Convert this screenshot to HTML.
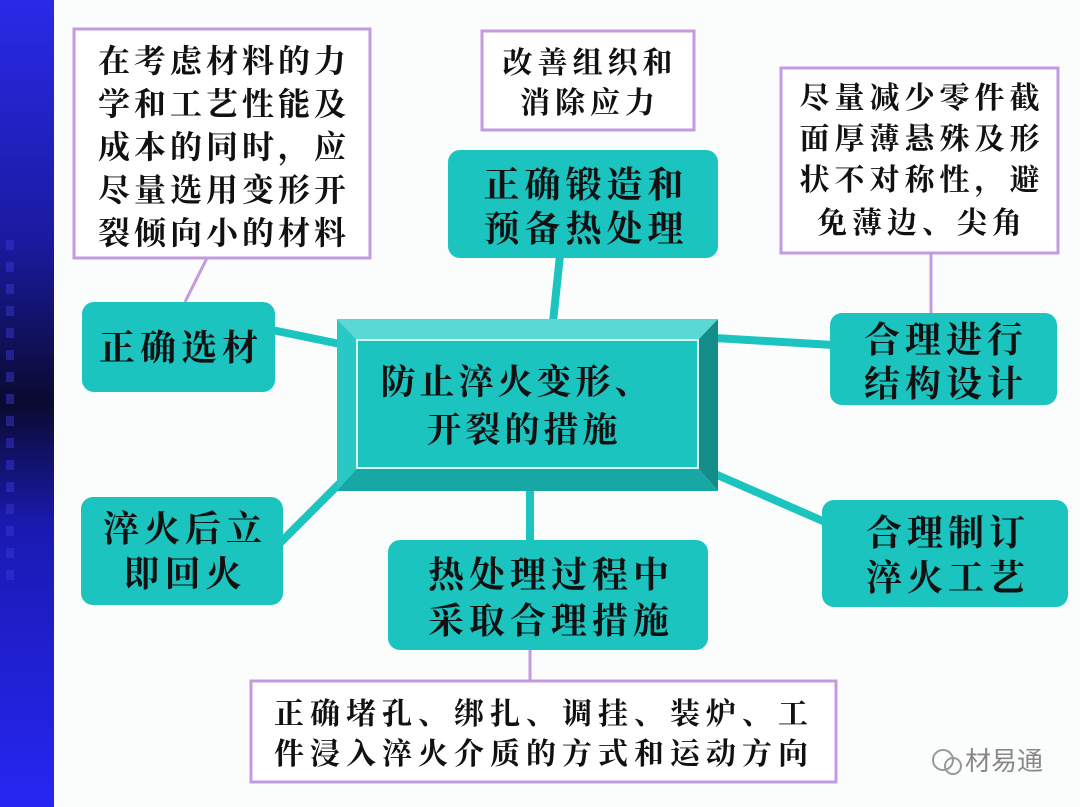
<!DOCTYPE html>
<html><head><meta charset="utf-8"><style>
html,body{margin:0;padding:0;background:#fbfdfd;}
svg{display:block}
text{font-family:"Noto Serif CJK SC","Liberation Serif",serif;fill:#111;text-anchor:middle;font-weight:bold;}
</style></head><body>
<svg width="1080" height="807" viewBox="0 0 1080 807" xmlns="http://www.w3.org/2000/svg">
<defs>
<linearGradient id="bar" x1="0" y1="0" x2="0" y2="1">
<stop offset="0" stop-color="#2a2ae8"/>
<stop offset="0.3" stop-color="#1a1aa0"/>
<stop offset="0.5" stop-color="#0a0a30"/>
<stop offset="0.65" stop-color="#1a1ab0"/>
<stop offset="1" stop-color="#2626f4"/>
</linearGradient>
</defs>
<rect x="0" y="0" width="54" height="807" fill="url(#bar)"/>
<g fill="#3a3ad8" opacity="0.45">
<rect x="6" y="240" width="8" height="10"/><rect x="6" y="262" width="8" height="10"/><rect x="6" y="284" width="8" height="10"/><rect x="6" y="306" width="8" height="10"/><rect x="6" y="328" width="8" height="10"/><rect x="6" y="350" width="8" height="10"/><rect x="6" y="372" width="8" height="10"/><rect x="6" y="394" width="8" height="10"/><rect x="6" y="416" width="8" height="10"/><rect x="6" y="438" width="8" height="10"/><rect x="6" y="460" width="8" height="10"/><rect x="6" y="482" width="8" height="10"/><rect x="6" y="504" width="8" height="10"/><rect x="6" y="526" width="8" height="10"/><rect x="6" y="548" width="8" height="10"/><rect x="6" y="570" width="8" height="10"/>
</g>

<g stroke="#1cc4c0" stroke-width="8" fill="none">
<line x1="272" y1="330" x2="345" y2="345"/>
<line x1="560" y1="255" x2="553" y2="322"/>
<line x1="715" y1="338" x2="833" y2="345"/>
<line x1="280" y1="543" x2="345" y2="478"/>
<line x1="715" y1="474" x2="825" y2="522"/>
<line x1="530" y1="488" x2="530" y2="543"/>
</g>
<g stroke="#c49ae0" stroke-width="3" fill="none">
<line x1="207" y1="258" x2="185" y2="302"/>
<line x1="931" y1="253" x2="931" y2="314"/>
<line x1="530" y1="650" x2="530" y2="681"/>
</g>

<g fill="#fff" stroke="#c49ae0" stroke-width="3">
<rect x="74" y="29" width="296" height="229"/>
<rect x="482" y="31" width="212" height="99"/>
<rect x="781" y="68" width="277" height="185"/>
<rect x="251" y="681" width="585" height="101"/>
</g>
<g font-size="32" letter-spacing="4">
<text x="224" y="72">在考虑材料的力</text>
<text x="224" y="115">学和工艺性能及</text>
<text x="224" y="158">成本的同时，应</text>
<text x="224" y="201">尽量选用变形开</text>
<text x="224" y="244">裂倾向小的材料</text>
</g>
<g font-size="30" letter-spacing="5">
<text x="590" y="73">改善组织和</text>
<text x="590" y="113">消除应力</text>
<text x="922" y="108">尽量减少零件截</text>
<text x="922" y="149">面厚薄悬殊及形</text>
<text x="922" y="190">状不对称性，避</text>
<text x="922" y="233">免薄边、尖角</text>
</g>
<g font-size="30" letter-spacing="6">
<text x="544" y="724">正确堵孔、绑扎、调挂、装炉、工</text>
<text x="544" y="764">件浸入淬火介质的方式和运动方向</text>
</g>

<g fill="#1cc4c0">
<rect x="448" y="150" width="270" height="108" rx="12"/>
<rect x="82" y="302" width="193" height="90" rx="12"/>
<rect x="830" y="313" width="227" height="92" rx="12"/>
<rect x="81" y="497" width="202" height="108" rx="12"/>
<rect x="822" y="500" width="246" height="107" rx="12"/>
<rect x="388" y="540" width="320" height="110" rx="12"/>
</g>
<g font-size="36" letter-spacing="5">
<text x="586" y="197">正确锻造和</text>
<text x="586" y="241">预备热处理</text>
<text x="181" y="360">正确选材</text>
<text x="946" y="352">合理进行</text>
<text x="946" y="396">结构设计</text>
<text x="185" y="541">淬火后立</text>
<text x="185" y="586">即回火</text>
<text x="948" y="545">合理制订</text>
<text x="948" y="590">淬火工艺</text>
<text x="551" y="587">热处理过程中</text>
<text x="551" y="633">采取合理措施</text>
</g>

<polygon points="337,319 718,319 698,340 357,340" fill="#5ad8d4"/>
<polygon points="337,319 357,340 357,468 337,491" fill="#2ac8c4"/>
<polygon points="718,319 718,491 698,468 698,340" fill="#138c8a"/>
<polygon points="337,491 718,491 698,468 357,468" fill="#17a8a5"/>
<rect x="357" y="340" width="341" height="128" fill="#1cc4c0" stroke="#d8f8f6" stroke-width="2"/>
<g font-size="35" letter-spacing="4">
<text x="517" y="394">防止淬火变形、</text>
<text x="524" y="442">开裂的措施</text>
</g>

<text x="1004" y="770" font-size="26" style="fill:#888;font-weight:normal;font-family:'Liberation Sans','Noto Sans CJK SC',sans-serif">材易通</text>
<circle cx="943" cy="760" r="10" fill="none" stroke="#999" stroke-width="2"/>
<circle cx="953" cy="766" r="8" fill="none" stroke="#999" stroke-width="2"/>
</svg>
</body></html>
